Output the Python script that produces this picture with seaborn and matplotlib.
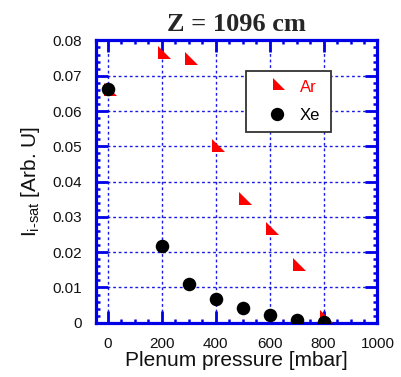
import numpy as np
import pandas as pd
import matplotlib
matplotlib.use("Agg")
import matplotlib.pyplot as plt
from matplotlib.path import Path
from matplotlib.lines import Line2D
from matplotlib.ticker import MultipleLocator
import seaborn as sns

# ---- data ----
pressure = [0, 200, 300, 400, 500, 600, 700, 800]
ar_values = [0.0655, 0.0760, 0.0741, 0.0495, 0.0345, 0.0260, 0.0159, 0.0012]
xe_values = [0.0662, 0.0218, 0.0109, 0.0068, 0.0042, 0.0022, 0.0008, 0.0002]
series_labels = ["Ar", "Xe"]
x_ticks = [0, 200, 400, 600, 800, 1000]
y_ticks = [0, 0.01, 0.02, 0.03, 0.04, 0.05, 0.06, 0.07, 0.08]
y_tick_labels = ["0", "0.01", "0.02", "0.03", "0.04", "0.05", "0.06", "0.07", "0.08"]

sns.set_style("white")
plt.rcParams['font.family'] = ['Liberation Sans', 'DejaVu Sans']
plt.rcParams['mathtext.fontset'] = 'custom'
plt.rcParams['mathtext.rm'] = 'Liberation Sans'
plt.rcParams['mathtext.it'] = 'Liberation Sans'

BLUE = "#0000e6"

fig = plt.figure(figsize=(4.02, 3.77), dpi=100)
ax = fig.add_axes([0.238, 0.1438, 0.701, 0.749])

# right-triangle marker, centred on its centroid
tri = Path([(-1, 2), (-1, -1), (2, -1), (-1, 2)],
           [Path.MOVETO, Path.LINETO, Path.LINETO, Path.CLOSEPOLY])

df_ar = pd.DataFrame({"p": pressure, "v": ar_values})
df_xe = pd.DataFrame({"p": pressure, "v": xe_values})

sns.scatterplot(data=df_ar, x="p", y="v", marker=tri, color="#ff0000",
                s=150, linewidth=0, ax=ax, zorder=3)
sns.scatterplot(data=df_xe, x="p", y="v", marker="o", color="black",
                s=95, linewidth=0, ax=ax, zorder=4)

ax.set_xlim(-45, 1000)
ax.set_ylim(0, 0.08)
ax.set_xticks(x_ticks)
ax.set_yticks(y_ticks)
ax.set_yticklabels(y_tick_labels)
ax.xaxis.set_minor_locator(MultipleLocator(50))
ax.yaxis.set_minor_locator(MultipleLocator(0.002))

ax.grid(True, which="major", color=BLUE, linestyle=(0, (2, 2)), linewidth=1.0, alpha=0.9)
ax.set_axisbelow(True)

for sp in ax.spines.values():
    sp.set_color(BLUE)
    sp.set_linewidth(2.3)
    sp.set_visible(True)

ax.tick_params(which="major", direction="in", length=8.5, width=2.0, color=BLUE,
               top=True, right=True, left=True, bottom=True,
               labelsize=11, pad=10, labelcolor="#111111")
ax.tick_params(which="minor", direction="in", length=3.2, width=1.8, color=BLUE,
               top=True, right=True, left=True, bottom=True)

ax.set_xlabel("Plenum pressure [mbar]", fontsize=15, labelpad=0, color="#111111")
ax.set_ylabel(r"I$_{\mathrm{i\text{-}sat}}$ [Arb. U]", fontsize=15, labelpad=7, color="#111111")
ax.set_title("Z = 1096 cm", fontsize=19, fontweight="bold",
             family=["Liberation Serif", "DejaVu Serif"], pad=7)

handles = [
    Line2D([], [], linestyle="none", marker=tri, color="#ff0000", markersize=12.2, markeredgewidth=0),
    Line2D([], [], linestyle="none", marker="o", color="black", markersize=9.6, markeredgewidth=0),
]
ax_w, ax_h = 282.0, 282.4
lx0 = (245.7 - 95.7) / ax_w
ltop = 1 - (70.7 - 40.4) / ax_h
lw = (330.7 - 245.7) / ax_w
lh = (131.0 - 70.7) / ax_h
leg = ax.legend(handles, series_labels, loc="upper left", mode="expand",
                bbox_to_anchor=(lx0, ltop - lh, lw, lh),
                fontsize=12, frameon=True, fancybox=False, borderpad=0.55,
                labelspacing=0.8, handletextpad=0.0, handlelength=2.7,
                borderaxespad=0, labelcolor=["#ff0000", "black"])
leg.get_frame().set_edgecolor("#333333")
leg.get_frame().set_linewidth(1.3)
leg.get_frame().set_facecolor("white")
leg.get_frame().set_alpha(1)
leg.set_zorder(5)

fig.savefig("out.png", dpi=100)
